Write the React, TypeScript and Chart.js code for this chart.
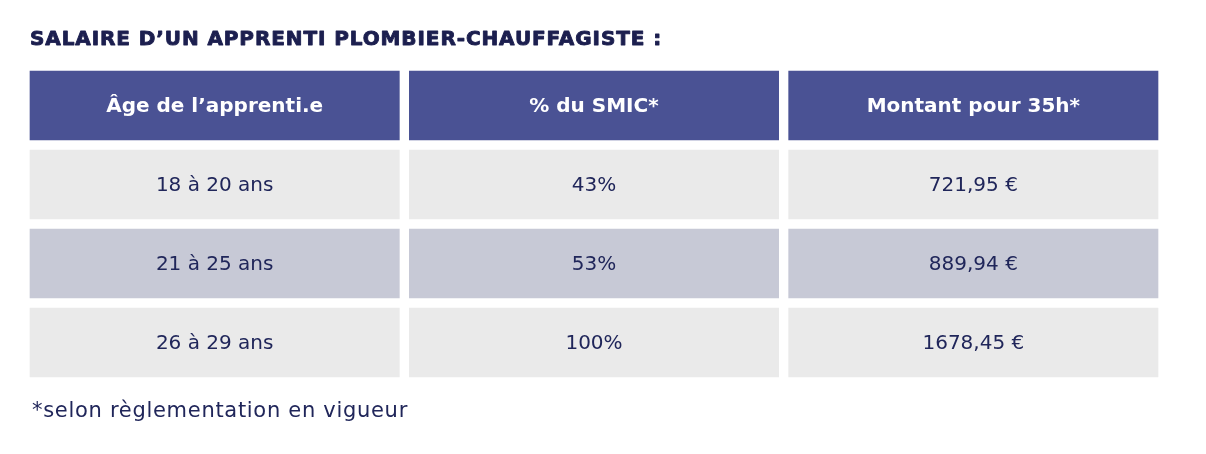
import React, { useEffect, useRef } from 'react';
import { Chart, registerables } from 'chart.js';

Chart.register(...registerables);

const TITLE = 'SALAIRE D’UN APPRENTI PLOMBIER-CHAUFFAGISTE :';
const FOOTNOTE = '*selon règlementation en vigueur';
const HEADERS = ['Âge de l’apprenti.e', '% du SMIC*', 'Montant pour 35h*'];
const AGES = ['18 à 20 ans', '21 à 25 ans', '26 à 29 ans'];
const SMIC_PCT = [43, 53, 100];
const MONTANTS = [721.95, 889.94, 1678.45];

const ROW_FILLS = ['#4a5294', '#eaeaea', '#c7c9d6', '#eaeaea'];
const TEXT_COLOR = '#20265a';
const TITLE_COLOR = '#1c1f4f';
const FONT = '"DejaVu Sans", sans-serif';

export default function App() {
  const ref = useRef<HTMLCanvasElement>(null);

  useEffect(() => {
    if (!ref.current) return;
    const rowLabels = ['header', ...AGES];
    const cellText: string[][] = [
      [HEADERS[0], ...AGES],
      [HEADERS[1], ...SMIC_PCT.map((p) => `${p}%`)],
      [HEADERS[2], ...MONTANTS.map((m) => `${m.toFixed(2).replace('.', ',')} €`)],
    ];

    const datasets = HEADERS.map((h, c) => ({
      label: h,
      data: rowLabels.map(() => [c, c + 1]),
      backgroundColor: ROW_FILLS,
      borderColor: '#ffffff',
      borderWidth: 5,
      borderSkipped: false as const,
      grouped: false,
      categoryPercentage: 1,
      barPercentage: 1,
    }));

    const textPlugin = {
      id: 'tableText',
      afterDatasetsDraw(chart: any) {
        const ctx = chart.ctx as any;
        ctx.save();
        ctx.textAlign = 'center';
        ctx.textBaseline = 'middle';
        chart.data.datasets.forEach((_ds: any, c: number) => {
          const meta = chart.getDatasetMeta(c);
          meta.data.forEach((el: any, r: number) => {
            const { x, y, base } = el.getProps(['x', 'y', 'base'], true);
            const cx = (x + base) / 2;
            if (r === 0) {
              ctx.font = `bold 20px ${FONT}`;
              ctx.fillStyle = '#ffffff';
            } else {
              ctx.font = `20px ${FONT}`;
              ctx.fillStyle = TEXT_COLOR;
            }
            ctx.fillText(cellText[c][r], cx, y + 1);
          });
        });
        ctx.textAlign = 'left';
        ctx.textBaseline = 'alphabetic';
        ctx.font = `bold 20px ${FONT}`;
        ctx.letterSpacing = '0.9px';
        ctx.fillStyle = TITLE_COLOR;
        ctx.strokeStyle = TITLE_COLOR;
        ctx.lineWidth = 0.9;
        ctx.lineJoin = 'round';
        ctx.fillText(TITLE, 30, 45);
        ctx.strokeText(TITLE, 30, 45);
        ctx.font = `21px ${FONT}`;
        ctx.letterSpacing = '0.7px';
        ctx.fillStyle = TEXT_COLOR;
        ctx.fillText(FOOTNOTE, 32, 417);
        ctx.restore();
      },
    };

    const chart = new Chart(ref.current, {
      type: 'bar',
      data: { labels: rowLabels, datasets: datasets as any },
      options: {
        indexAxis: 'y',
        animation: false,
        responsive: false,
        events: [],
        layout: { padding: { left: 25, right: 43, top: 66, bottom: 72 } },
        plugins: {
          legend: { display: false },
          tooltip: { enabled: false },
          title: { display: false },
        },
        scales: {
          x: { type: 'linear', min: 0, max: 3, display: false },
          y: { type: 'category', display: false },
        },
      },
      plugins: [textPlugin],
    });
    return () => chart.destroy();
  }, []);

  return (
    <div style={{ position: 'fixed', left: 0, top: 0, width: 1206, height: 454, background: '#ffffff' }}>
      <canvas ref={ref} width={1206} height={454} style={{ display: 'block' }} />
    </div>
  );
}
